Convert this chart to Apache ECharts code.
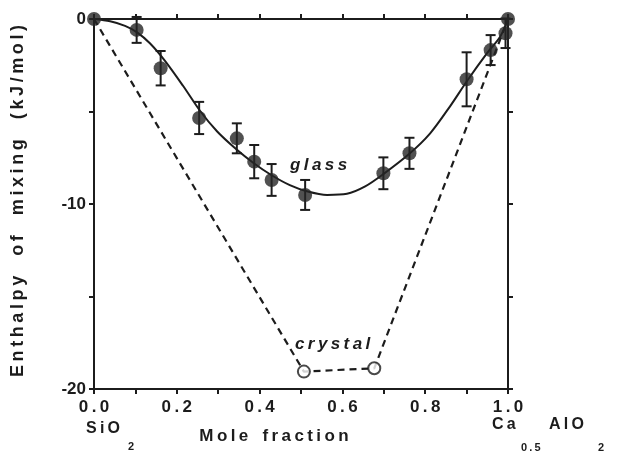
<!DOCTYPE html>
<html><head><meta charset="utf-8">
<script src="https://cdn.jsdelivr.net/npm/echarts@6/dist/echarts.min.js"></script>
<style>html,body{margin:0;padding:0;background:#fff}#c{width:617px;height:454px}</style>
</head><body><div id="c"></div>
<script>
// ---- data ----
const glassX   = [0, 0.103, 0.161, 0.254, 0.345, 0.387, 0.429, 0.510, 0.699, 0.762, 0.900, 0.958, 0.994, 1.0];
const glassY   = [0, -0.59, -2.66, -5.35, -6.45, -7.71, -8.70, -9.51, -8.34, -7.26, -3.26, -1.68, -0.77, 0];
const glassErr = [0, 0.70, 0.93, 0.87, 0.81, 0.90, 0.86, 0.81, 0.86, 0.84, 1.46, 0.81, 0.80, 0];
const curveX = [0, 0.039, 0.075, 0.104, 0.135, 0.171, 0.215, 0.256, 0.297, 0.341, 0.386, 0.430, 0.473, 0.514, 0.563, 0.611, 0.655, 0.698, 0.761, 0.812, 0.860, 0.901, 0.949, 0.981, 1.0];
const curveY = [0, -0.12, -0.37, -0.72, -1.31, -2.25, -3.61, -4.96, -6.07, -6.99, -7.80, -8.46, -8.98, -9.31, -9.51, -9.45, -9.05, -8.40, -7.30, -6.18, -4.72, -3.35, -1.86, -0.96, 0];
const crystalX = [0.507, 0.677];
const crystalY = [-19.06, -18.88];
const crystalLineX = [0, 0.507, 0.677, 1.0];
const crystalLineY = [0, -19.06, -18.88, 0];
const xTickValues = [0, 0.2, 0.4, 0.6, 0.8, 1.0];
const xTickLabels = ['0.0', '0.2', '0.4', '0.6', '0.8', '1.0'];
const yTickValues = [0, -10, -20];
const yTickLabels = ['0', '-10', '-20'];
const yTitleWords = ['Enthalpy', 'of', 'mixing', '(kJ/mol)'];
const xTitleWords = ['Mole', 'fraction'];
const seriesLabels = ['glass', 'crystal'];

// ---- helpers ----
const TS = '\u2009';
const sp = s => s.split('').join(TS);
const zip = (a, b) => a.map((v, i) => [v, b[i]]);
const lookup = (vals, labels, f) => v => {
  const i = vals.findIndex(t => Math.abs(t - v) < 1e-6);
  return i < 0 ? '' : f(labels[i]);
};
const FONT = '"Liberation Sans", Arial, Helvetica, sans-serif';
const INK = '#1c1c1c';
const axisCommon = {
  type: 'value',
  axisLine: { show: true, onZero: false, lineStyle: { color: INK, width: 2 } },
  axisTick: { show: true, inside: false, length: 5, lineStyle: { color: INK, width: 2 } },
  splitLine: { show: false },
  minorSplitLine: { show: false }
};

const chart = echarts.init(document.getElementById('c'), null, { renderer: 'canvas' });
chart.setOption({
  backgroundColor: '#ffffff',
  animation: false,
  grid: { left: 94, right: 109, top: 19, bottom: 65, containLabel: false },
  xAxis: [
    Object.assign({}, axisCommon, {
      min: 0, max: 1, interval: 0.2, position: 'bottom',
      minorTick: { show: true, splitNumber: 2, length: 5, lineStyle: { color: INK, width: 2 } },
      axisLabel: { formatter: lookup(xTickValues, xTickLabels, sp), fontSize: 17, fontWeight: 'bold', fontFamily: FONT, color: INK, margin: 10 }
    }),
    Object.assign({}, axisCommon, {
      min: 0, max: 1, interval: 0.1, position: 'top',
      axisLabel: { show: false }
    })
  ],
  yAxis: [
    Object.assign({}, axisCommon, {
      min: -20, max: 0, interval: 10, position: 'left',
      minorTick: { show: true, splitNumber: 2, length: 5, lineStyle: { color: INK, width: 2 } },
      axisLabel: { formatter: lookup(yTickValues, yTickLabels, s => s), fontSize: 17, fontWeight: 'bold', fontFamily: FONT, color: INK, margin: 8 }
    }),
    Object.assign({}, axisCommon, {
      min: -20, max: 0, interval: 5, position: 'right',
      axisLabel: { show: false }
    })
  ],
  series: [
    {
      name: 'crystal line', type: 'line', data: zip(crystalLineX, crystalLineY),
      showSymbol: false, symbol: 'none',
      lineStyle: { color: INK, width: 2.2, type: [7, 5] }, z: 2
    },
    {
      name: 'glass curve', type: 'line', data: zip(curveX, curveY),
      showSymbol: false, symbol: 'none', smooth: 0.3,
      lineStyle: { color: INK, width: 2 }, z: 3
    },
    {
      name: 'glass err', type: 'custom',
      data: glassX.map((x, i) => [x, glassY[i], glassErr[i]]),
      encode: { x: 0, y: 1 },
      renderItem: (params, api) => {
        const x = api.value(0), y = api.value(1), e = api.value(2);
        if (!e) return null;
        const t = api.coord([x, y + e]), b = api.coord([x, y - e]);
        const w = 5, st = { stroke: INK, lineWidth: 2 };
        return { type: 'group', children: [
          { type: 'line', shape: { x1: t[0], y1: t[1], x2: b[0], y2: b[1] }, style: st },
          { type: 'line', shape: { x1: t[0] - w, y1: t[1], x2: t[0] + w, y2: t[1] }, style: st },
          { type: 'line', shape: { x1: b[0] - w, y1: b[1], x2: b[0] + w, y2: b[1] }, style: st }
        ] };
      },
      z: 4
    },
    {
      name: 'glass', type: 'scatter', data: zip(glassX, glassY),
      symbol: 'circle', symbolSize: 14,
      itemStyle: { color: '#262626' }, z: 5
    },
    {
      name: 'crystal', type: 'scatter', data: zip(crystalX, crystalY),
      symbol: 'emptyCircle', symbolSize: 12,
      itemStyle: { color: INK, borderColor: INK, borderWidth: 2.2 }, z: 5
    }
  ],
  graphic: [
    { type: 'text', x: 18, y: 201, rotation: Math.PI / 2,
      style: { text: yTitleWords.map(sp).join('    '), font: 'bold 18px ' + FONT, fill: INK, textAlign: 'center', textVerticalAlign: 'middle' } },
    { type: 'text', x: 274, y: 436,
      style: { text: xTitleWords.map(sp).join('   '), font: 'bold 17px ' + FONT, fill: INK, textAlign: 'center', textVerticalAlign: 'middle' } },
    { type: 'text', x: 86, y: 429, style: { text: sp('SiO'), font: 'bold 16px ' + FONT, fill: INK, textAlign: 'left', textVerticalAlign: 'middle' } },
    { type: 'text', x: 128, y: 447, style: { text: '2', font: 'bold 11px ' + FONT, fill: INK, textAlign: 'left', textVerticalAlign: 'middle' } },
    { type: 'text', x: 492, y: 425, style: { text: sp('Ca'), font: 'bold 16px ' + FONT, fill: INK, textAlign: 'left', textVerticalAlign: 'middle' } },
    { type: 'text', x: 521, y: 448, style: { text: sp('0.5'), font: 'bold 11px ' + FONT, fill: INK, textAlign: 'left', textVerticalAlign: 'middle' } },
    { type: 'text', x: 549, y: 425, style: { text: sp('AlO'), font: 'bold 16px ' + FONT, fill: INK, textAlign: 'left', textVerticalAlign: 'middle' } },
    { type: 'text', x: 598, y: 448, style: { text: '2', font: 'bold 11px ' + FONT, fill: INK, textAlign: 'left', textVerticalAlign: 'middle' } },
    { type: 'text', x: 290, y: 165, style: { text: sp(seriesLabels[0]), font: 'italic bold 17px ' + FONT, fill: INK, textAlign: 'left', textVerticalAlign: 'middle' } },
    { type: 'text', x: 295, y: 344, style: { text: sp(seriesLabels[1]), font: 'italic bold 17px ' + FONT, fill: INK, textAlign: 'left', textVerticalAlign: 'middle' } }
  ]
});
</script>
</body></html>
